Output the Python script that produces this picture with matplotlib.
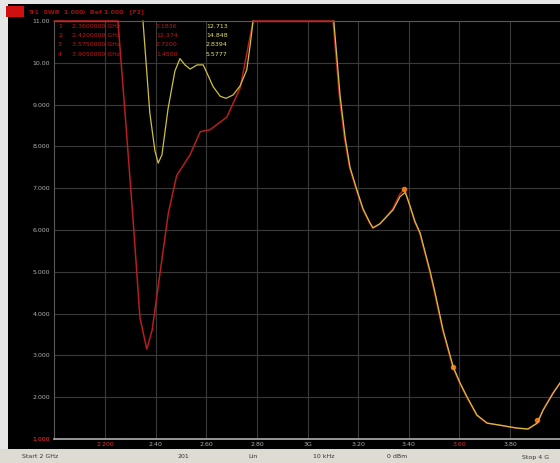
import numpy as np
import matplotlib.pyplot as plt

# trace 1 (red), frequency in GHz / SWR
f_tr1 = [2.00, 2.22, 2.251, 2.279, 2.311, 2.338, 2.365, 2.386, 2.418, 2.450, 2.483,
         2.536, 2.576, 2.615, 2.681, 2.734, 2.785, 2.805, 3.00, 3.095,
         3.101, 3.126, 3.146, 3.166, 3.193, 3.218, 3.245, 3.257, 3.285, 3.311, 3.336,
         3.364, 3.384, 3.403, 3.423, 3.443, 3.483, 3.502, 3.534, 3.574, 3.601, 3.629,
         3.668, 3.708, 3.760, 3.827, 3.870, 3.906, 3.930, 3.969, 4.00]
swr_tr1 = [15, 12.5, 11.0, 8.8, 6.24, 3.9, 3.15, 3.6, 5.0, 6.4, 7.3,
           7.8, 8.35, 8.4, 8.7, 9.4, 11.0, 12, 15, 12,
           11.0, 9.2, 8.2, 7.5, 6.96, 6.5, 6.17, 6.05, 6.15, 6.32, 6.5,
           6.85, 6.98, 6.6, 6.2, 5.93, 5.0, 4.5, 3.6, 2.72, 2.34, 2.0,
           1.57, 1.38, 1.33, 1.26, 1.24, 1.38, 1.69, 2.1, 2.36]

# trace 2 (yellow)
f_tr2 = [2.00, 2.32, 2.350, 2.377, 2.397, 2.410, 2.425, 2.449, 2.476, 2.496, 2.516,
         2.536, 2.564, 2.588, 2.607, 2.627, 2.655, 2.678, 2.706, 2.734, 2.760,
         2.773, 2.785, 2.797, 3.00, 3.096,
         3.104, 3.129, 3.149, 3.168, 3.195, 3.220, 3.247, 3.259, 3.287, 3.313, 3.338,
         3.366, 3.386, 3.406, 3.425, 3.445, 3.485, 3.504, 3.536, 3.576, 3.603, 3.631,
         3.670, 3.710, 3.761, 3.828, 3.872, 3.908, 3.931, 3.971, 4.00]
swr_tr2 = [15, 12, 11.0, 8.8, 7.9, 7.6, 7.8, 8.9, 9.8, 10.1, 9.95,
           9.85, 9.95, 9.95, 9.7, 9.43, 9.2, 9.15, 9.23, 9.45, 9.83,
           10.4, 11.0, 12, 15, 12,
           11.0, 9.2, 8.2, 7.5, 6.96, 6.5, 6.17, 6.05, 6.15, 6.32, 6.48,
           6.8, 6.9, 6.56, 6.2, 5.93, 5.0, 4.5, 3.6, 2.72, 2.34, 2.0,
           1.57, 1.38, 1.33, 1.26, 1.24, 1.38, 1.69, 2.1, 2.36]

# marker spots on the right-hand band
mk_f = [3.380, 3.575, 3.905]
mk_swr = [6.98, 2.72, 1.45]

yticks = [1, 2, 3, 4, 5, 6, 7, 8, 9, 10, 11]
ylabels = ['1.000', '2.000', '3.000', '4.000', '5.000', '6.000', '7.000',
           '8.000', '9.000', '10.00', '11.00']
xticks = [2.2, 2.4, 2.6, 2.8, 3.0, 3.2, 3.4, 3.6, 3.8]
xlabels = ['2.200', '2.40', '2.60', '2.80', '3G', '3.20', '3.40', '3.60', '3.80']

mk_rows = [('1', '2.3600000 GHz', '3.1836', '12.713'),
           ('2', '2.4200000 GHz', '12.374', '14.848'),
           ('3', '3.5750000 GHz', '2.7200', '2.8394'),
           ('4', '3.9050000 GHz', '1.4500', '5.5777')]

W, H = 560, 463
fig = plt.figure(figsize=(W / 100, H / 100), dpi=100)
fig.patch.set_facecolor('#e6e6e6')

# instrument screen
screen = fig.add_axes([8 / W, 1 - 449 / H, 1, (449 - 4) / H])
screen.set_facecolor('black')
screen.set_xticks([])
screen.set_yticks([])
for s in screen.spines.values():
    s.set_visible(False)

# footer strip
fig.patches.append(plt.Rectangle((0, 0), 1, 1 - 449 / H, transform=fig.transFigure,
                                 facecolor='#dedbd2', edgecolor='none'))
foot_y = 1 - 457 / H
for xx, txt in [(22, 'Start 2 GHz'), (178, '201'), (248, 'Lin'), (313, '10 kHz'),
                (387, '0 dBm'), (522, 'Stop 4 G')]:
    fig.text(xx / W, foot_y, txt, fontsize=4.5, color='#333333', va='center')

# header line
fig.patches.append(plt.Rectangle((6 / W, 1 - 17 / H), 18 / W, 11 / H,
                                 transform=fig.transFigure, facecolor='#d01010',
                                 edgecolor='none'))
fig.text(28 / W, 1 - 11.5 / H, 'Tr1  SWR  1.000/  Ref 1.000   [F2]', fontsize=4.5,
         color='#a01010', va='center', fontweight='bold')

ax = fig.add_axes([54.4 / W, 1 - 439 / H, 506.2 / W, 418 / H])
ax.set_facecolor('black')
ax.set_xlim(2.0, 4.0)
ax.set_ylim(1, 11)

ax.set_yticks(yticks)
ax.set_yticklabels(ylabels)
ax.set_xticks(xticks)
ax.set_xticklabels(xlabels)
ax.tick_params(length=0, labelsize=4.5, colors='#b0b0b0', pad=3)
ax.tick_params(axis='x', pad=2)
ax.get_yticklabels()[0].set_color('#ff3030')
ax.get_xticklabels()[0].set_color('#e03030')
ax.get_xticklabels()[7].set_color('#e03030')
ax.grid(True, color='#3a3a3a', linewidth=0.8)
for s in ['left', 'top', 'right']:
    ax.spines[s].set_color('#5a5a5a')
ax.spines['bottom'].set_color('#b0b0b0')
ax.spines['bottom'].set_linewidth(1.2)

swr1 = np.array(swr_tr1, dtype=float)
swr2 = np.array(swr_tr2, dtype=float)

# traces; anything above full scale is pinned to the top line
ax.plot(f_tr1, np.clip(swr1, 1, 11), color='#b81e1a', linewidth=1.1, clip_on=False)
top2 = np.where(swr2 > 11.0, np.nan, swr2)
ax.plot(f_tr2, top2, color='#d0c03e', linewidth=0.9, clip_on=False)
# red trace wins on the top line
pinned = np.where(swr1 >= 11.0, 11.0, np.nan)
ax.plot(f_tr1, pinned, color='#a81a18', linewidth=1.0, clip_on=False)
ax.plot(mk_f, mk_swr, 'o', color='#ff8a20', markersize=3, alpha=0.8)

# marker readout table
for i, (n, fr, v1, v2) in enumerate(mk_rows):
    yy = 1 - (26 + 9.5 * i) / H
    fig.text(58 / W, yy, n, fontsize=4.5, color='#d01818', va='center')
    fig.text(72 / W, yy, fr, fontsize=4.5, color='#c01818', va='center')
    fig.text(156 / W, yy, v1, fontsize=4.5, color='#c01818', va='center')
    fig.text(206 / W, yy, v2, fontsize=4.5, color='#e6e06a', va='center')

fig.savefig('out.png', dpi=100, facecolor=fig.get_facecolor())
